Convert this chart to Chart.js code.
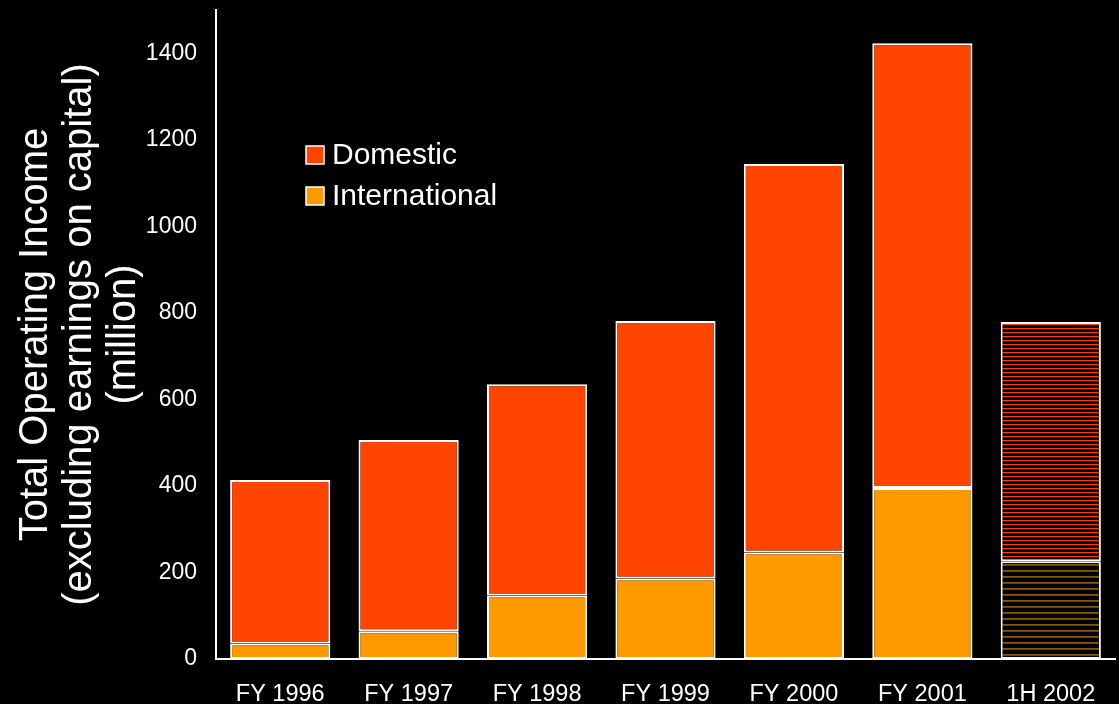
<!DOCTYPE html>
<html>
<head>
<meta charset="utf-8">
<script src="https://cdn.jsdelivr.net/npm/chart.js@4.4.1/dist/chart.umd.min.js"></script>
<style>
  html, body { margin: 0; padding: 0; background: #000; }
  #wrap { width: 1119px; height: 704px; }
</style>
</head>
<body>
<div id="wrap"><canvas id="c" width="1119" height="704"></canvas></div>
<script>
// Operating income by period, in millions
const categories = ['FY 1996', 'FY 1997', 'FY 1998', 'FY 1999', 'FY 2000', 'FY 2001', '1H 2002'];
const international = [36, 64, 147, 186, 246, 395, 226];
const domestic = [378, 442, 488, 595, 898, 1028, 553];
const yTicks = [0, 200, 400, 600, 800, 1000, 1200, 1400];
const seriesNames = ['Domestic', 'International'];

const DOM_COLOR = '#FF4500';
const INTL_COLOR = '#FF9900';
const FONT = '"Liberation Sans", Arial, sans-serif';

// Striped fills for the half-year (partial) period
function stripePattern(period, rows) {
  const c = document.createElement('canvas');
  c.width = 8; c.height = period;
  const g = c.getContext('2d');
  g.fillStyle = '#000';
  g.fillRect(0, 0, 8, period);
  rows.forEach(([y, color]) => { g.fillStyle = color; g.fillRect(0, y, 8, 1); });
  return document.getElementById('c').getContext('2d').createPattern(c, 'repeat');
}
const domStripe = stripePattern(4, [[0, '#f04200'], [1, '#4a1600']]);
const intlStripe = stripePattern(6, [[0, '#8a560c'], [1, '#6a420a']]);

const lastIdx = categories.length - 1;
const fillFor = (base, stripe) => ctx => (ctx.dataIndex === lastIdx ? stripe : base);

// Legend drawn inside the plot area
const insetLegend = {
  id: 'insetLegend',
  afterDraw(chart) {
    const ctx = chart.ctx;
    const items = [
      { label: seriesNames[0], color: DOM_COLOR, y: 155 },
      { label: seriesNames[1], color: INTL_COLOR, y: 196 }
    ];
    ctx.save();
    ctx.font = '30px ' + FONT;
    ctx.textBaseline = 'middle';
    items.forEach(it => {
      ctx.fillStyle = it.color;
      ctx.fillRect(306, it.y - 9, 18, 18);
      ctx.strokeStyle = '#fff';
      ctx.lineWidth = 1.5;
      ctx.strokeRect(306, it.y - 9, 18, 18);
      ctx.fillStyle = '#fff';
      ctx.fillText(it.label, 332, it.y + 1);
    });
    ctx.restore();
  }
};

new Chart(document.getElementById('c'), {
  type: 'bar',
  data: {
    labels: categories,
    datasets: [
      {
        label: seriesNames[1],
        data: international,
        backgroundColor: fillFor(INTL_COLOR, intlStripe),
        borderColor: '#ffffff',
        borderWidth: 2,
        borderSkipped: false
      },
      {
        label: seriesNames[0],
        data: domestic,
        backgroundColor: fillFor(DOM_COLOR, domStripe),
        borderColor: '#ffffff',
        borderWidth: 2,
        borderSkipped: false
      }
    ]
  },
  options: {
    responsive: false,
    animation: false,
    layout: { padding: { top: 10, right: 4, left: 0, bottom: 0 } },
    plugins: { legend: { display: false }, tooltip: { enabled: false } },
    datasets: { bar: { categoryPercentage: 1, barPercentage: 0.78 } },
    scales: {
      x: {
        stacked: true,
        grid: { display: false, drawTicks: false },
        border: { display: true, color: '#ffffff', width: 2 },
        ticks: { color: '#ffffff', padding: 21, maxRotation: 0, font: { family: FONT, size: 23.5 } },
        afterFit(s) { s.height = 45; s.paddingLeft = 0; s.paddingRight = 0; }
      },
      y: {
        stacked: true,
        min: 0,
        max: 1500,
        grid: { display: false, drawTicks: false },
        border: { display: true, color: '#ffffff', width: 2 },
        afterBuildTicks(s) { s.ticks = yTicks.map(v => ({ value: v })); },
        ticks: {
          color: '#ffffff',
          padding: 19,
          font: { family: FONT, size: 23 },
          callback: v => String(v)
        },
        title: {
          display: true,
          text: ['Total Operating Income', '(excluding earnings on capital)', '(million)'],
          color: '#ffffff',
          padding: { top: 14, bottom: 0 },
          font: { family: FONT, size: 40, lineHeight: 1.1 }
        },
        afterFit(s) { s.width = 216; s.paddingTop = 0; s.paddingBottom = 0; }
      }
    }
  },
  plugins: [insetLegend]
});
</script>
</body>
</html>
